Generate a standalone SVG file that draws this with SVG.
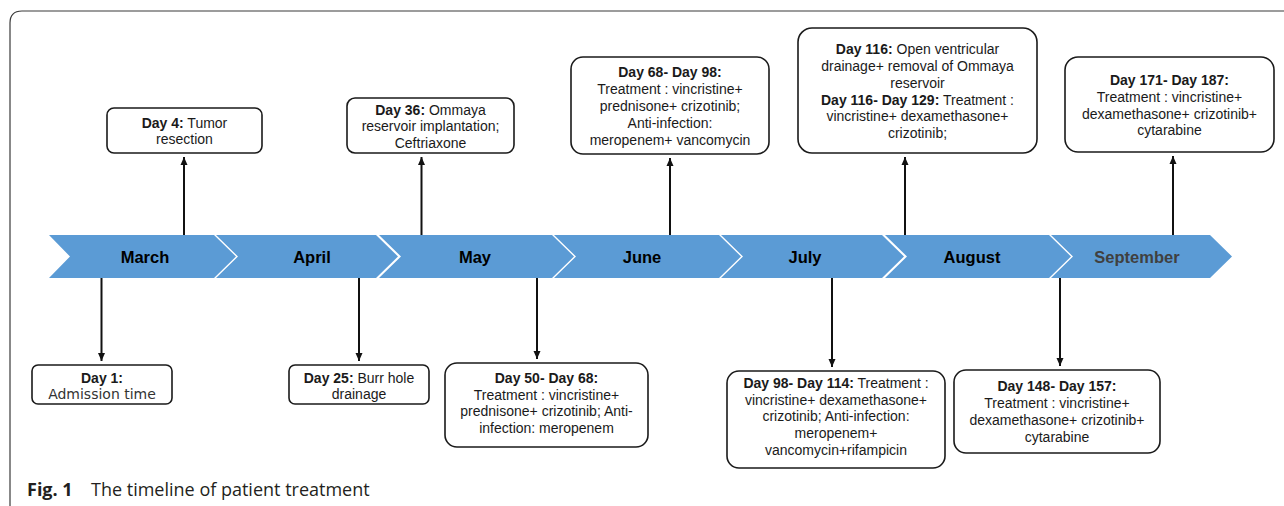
<svg xmlns="http://www.w3.org/2000/svg" width="1284" height="506" viewBox="0 0 1284 506">
<style>
.frame{fill:none;stroke:#3a3a3a;stroke-width:1.2}
.chev{fill:#5b9bd5;stroke:none}
.mon{font-family:"Liberation Sans",Arial,sans-serif;font-size:16.5px;font-weight:bold;fill:#000;text-anchor:middle}
.box{fill:#fff;stroke:#1a1a1a;stroke-width:1.6}
.t{font-family:"Liberation Sans",Arial,sans-serif;font-size:14px;fill:#1a1a1a;text-anchor:middle}
.b{font-weight:bold}
.dv{font-family:"DejaVu Sans",Verdana,sans-serif;font-size:14px;fill:#333;text-anchor:middle}
.con{stroke:#111;stroke-width:2;fill:none}
.cap{font-family:"Open Sans","Noto Sans",sans-serif;font-size:18px;fill:#231f20}
</style>
<defs>
<marker id="ah" markerUnits="userSpaceOnUse" markerWidth="8" markerHeight="8" refX="8" refY="4" orient="auto">
<path d="M0,0.5 L8,4 L0,7.5 z" fill="#111"/>
</marker>
</defs>
<path class="frame" d="M10,506 L10,23 Q10,11 22,11 L1290,11"/>
<g id="timeline">
<polygon class="chev" points="49,235 214,235 236,256.5 214,278 49,278 70,256.5"/>
<polygon class="chev" points="216,235 376,235 398,256.5 376,278 216,278 238,256.5"/>
<polygon class="chev" points="379,235 552,235 574,256.5 552,278 379,278 401,256.5"/>
<polygon class="chev" points="554,235 719,235 741,256.5 719,278 554,278 576,256.5"/>
<polygon class="chev" points="721,235 882,235 904,256.5 882,278 721,278 743,256.5"/>
<polygon class="chev" points="885,235 1049,235 1071,256.5 1049,278 885,278 907,256.5"/>
<polygon class="chev" points="1051,235 1210,235 1232,256.5 1210,278 1051,278 1073,256.5"/>
<text class="mon" x="145" y="263">March</text>
<text class="mon" x="312" y="263">April</text>
<text class="mon" x="475" y="263">May</text>
<text class="mon" x="642" y="263">June</text>
<text class="mon" x="805" y="263">July</text>
<text class="mon" x="972" y="263">August</text>
<text class="mon" x="1137" y="263" style="fill:#404040">September</text>
</g>
<g id="connectors">
<path class="con" d="M184,235 V157" marker-end="url(#ah)"/>
<path class="con" d="M421.5,235 V157" marker-end="url(#ah)"/>
<path class="con" d="M670,235 V158" marker-end="url(#ah)"/>
<path class="con" d="M905,235 V157" marker-end="url(#ah)"/>
<path class="con" d="M1173,235 V156" marker-end="url(#ah)"/>
<path class="con" d="M101.5,278 V361" marker-end="url(#ah)"/>
<path class="con" d="M359,278 V361" marker-end="url(#ah)"/>
<path class="con" d="M537,278 V359" marker-end="url(#ah)"/>
<path class="con" d="M832,278 V367" marker-end="url(#ah)"/>
<path class="con" d="M1060,278 V366" marker-end="url(#ah)"/>
</g>
<g id="day4">
<rect class="box" x="107" y="108" width="155" height="45" rx="7"/>
<text class="t" x="184.5" y="128"><tspan class="b">Day 4:</tspan> Tumor</text>
<text class="t" x="184.5" y="144">resection</text>
</g>
<g id="day36">
<rect class="box" x="347" y="98" width="167" height="55" rx="8"/>
<text class="t" x="430.5" y="115"><tspan class="b">Day 36:</tspan> Ommaya</text>
<text class="t" x="430.5" y="131">reservoir implantation;</text>
<text class="t" x="430.5" y="148">Ceftriaxone</text>
</g>
<g id="day68">
<rect class="box" x="571" y="57" width="198" height="97" rx="12"/>
<text class="t b" x="670" y="77">Day 68- Day 98:</text>
<text class="t" x="670" y="94">Treatment : vincristine+</text>
<text class="t" x="670" y="111">prednisone+ crizotinib;</text>
<text class="t" x="670" y="128">Anti-infection:</text>
<text class="t" x="670" y="145">meropenem+ vancomycin</text>
</g>
<g id="day116">
<rect class="box" x="798" y="28" width="239" height="125" rx="14"/>
<text class="t" x="917.5" y="54"><tspan class="b">Day 116:</tspan> Open ventricular</text>
<text class="t" x="917.5" y="71">drainage+ removal of Ommaya</text>
<text class="t" x="917.5" y="88">reservoir</text>
<text class="t" x="917.5" y="105"><tspan class="b">Day 116- Day 129:</tspan> Treatment :</text>
<text class="t" x="917.5" y="121">vincristine+ dexamethasone+</text>
<text class="t" x="917.5" y="138">crizotinib;</text>
</g>
<g id="day171">
<rect class="box" x="1065" y="57" width="209" height="95" rx="13"/>
<text class="t b" x="1169.5" y="85">Day 171- Day 187:</text>
<text class="t" x="1169.5" y="102">Treatment : vincristine+</text>
<text class="t" x="1169.5" y="119">dexamethasone+ crizotinib+</text>
<text class="t" x="1169.5" y="135">cytarabine</text>
</g>
<g id="day1">
<rect class="box" x="32" y="365" width="140" height="39" rx="6"/>
<text class="t b" x="102" y="383">Day 1:</text>
<text class="dv" x="102" y="399">Admission time</text>
</g>
<g id="day25">
<rect class="box" x="289" y="365" width="140" height="39" rx="6"/>
<text class="t" x="359" y="383"><tspan class="b">Day 25:</tspan> Burr hole</text>
<text class="t" x="359" y="399">drainage</text>
</g>
<g id="day50">
<rect class="box" x="445" y="363" width="203" height="84" rx="12"/>
<text class="t b" x="546.5" y="383">Day 50- Day 68:</text>
<text class="t" x="546.5" y="400">Treatment : vincristine+</text>
<text class="t" x="546.5" y="416">prednisone+ crizotinib; Anti-</text>
<text class="t" x="546.5" y="433">infection: meropenem</text>
</g>
<g id="day98">
<rect class="box" x="727" y="371" width="218" height="97" rx="12"/>
<text class="t" x="836" y="388"><tspan class="b">Day 98- Day 114:</tspan> Treatment :</text>
<text class="t" x="836" y="405">vincristine+ dexamethasone+</text>
<text class="t" x="836" y="421">crizotinib; Anti-infection:</text>
<text class="t" x="836" y="438">meropenem+</text>
<text class="t" x="836" y="455">vancomycin+rifampicin</text>
</g>
<g id="day148">
<rect class="box" x="954" y="370" width="206" height="83" rx="12"/>
<text class="t b" x="1057" y="391">Day 148- Day 157:</text>
<text class="t" x="1057" y="408">Treatment : vincristine+</text>
<text class="t" x="1057" y="425">dexamethasone+ crizotinib+</text>
<text class="t" x="1057" y="442">cytarabine</text>
</g>
<g id="caption">
<text class="cap" x="27" y="496"><tspan font-weight="bold">Fig. 1</tspan></text>
<text class="cap" x="91" y="496">The timeline of patient treatment</text>
</g>
</svg>
